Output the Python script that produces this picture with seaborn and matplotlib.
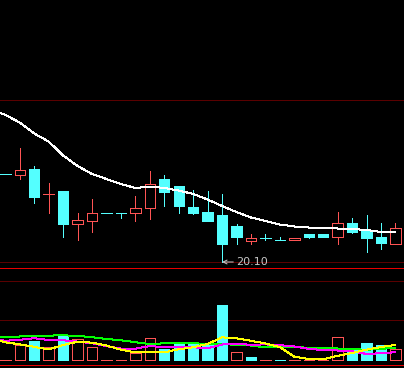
import matplotlib
matplotlib.use("Agg")
import matplotlib.pyplot as plt
import seaborn as sns
import pandas as pd

# ---------------- data ----------------
opens  = [21.86, 21.85, 21.96, 21.47, 21.53, 20.87, 20.93, 21.09, 21.09, 21.09,
          21.19, 21.76, 21.62, 21.20, 21.10, 21.04, 20.83, 20.53, 20.59, 20.55,
          20.55, 20.67, 20.67, 20.61, 20.88, 20.72, 20.60, 20.47]
closes = [21.86, 21.95, 21.41, 21.47, 20.87, 20.94, 21.09, 21.09, 21.09, 21.19,
          21.67, 21.51, 21.23, 21.09, 20.93, 20.47, 20.61, 20.59, 20.59, 20.55,
          20.59, 20.61, 20.61, 20.88, 20.71, 20.59, 20.49, 20.78]
highs  = [21.86, 22.38, 22.02, 21.68, 21.53, 21.08, 21.36, 21.09, 21.09, 21.42,
          21.92, 21.84, 21.62, 21.54, 21.52, 21.47, 20.86, 20.66, 20.66, 20.60,
          20.59, 20.67, 20.67, 21.10, 20.98, 21.04, 20.88, 20.88]
lows   = [21.86, 21.76, 21.29, 21.09, 20.61, 20.55, 20.71, 21.09, 20.99, 20.93,
          20.97, 21.23, 21.09, 21.06, 20.93, 20.10, 20.47, 20.46, 20.54, 20.55,
          20.55, 20.59, 20.61, 20.47, 20.69, 20.31, 20.37, 20.47]
candle_up = [False, True, False, True, False, True, True, False, False, True,
             True, False, False, False, False, False, False, True, False, False,
             True, False, False, True, False, False, False, True]

ma_x = list(range(-1, 28))
price_ma = [23.16, 23.04, 22.89, 22.67, 22.51, 22.23, 22.02, 21.86, 21.76, 21.66,
            21.58, 21.61, 21.58, 21.53, 21.46, 21.35, 21.22, 21.10, 20.99, 20.92,
            20.85, 20.81, 20.79, 20.78, 20.77, 20.76, 20.74, 20.70, 20.69]

volumes = [500, 14700, 19000, 12700, 24300, 20700, 12700, 500, 500, 6700,
           21700, 10700, 16000, 16000, 16000, 55000, 7700, 3000, 500, 500,
           500, 500, 500, 23000, 10000, 17000, 15000, 11000]
volume_up = [True, True, False, True, False, True, True, True, True, True,
             True, False, False, False, False, False, True, False, True, False,
             True, True, True, True, False, False, False, True]

vol_ma5 = [21500, 17700, 15700, 13200, 10500, 15000, 18300, 17300, 14500, 10300,
           7700, 8000, 7700, 10700, 12800, 16000, 22700, 21700, 19200, 16500,
           13000, 3300, 1000, 700, 4200, 7000, 10400, 13000, 15000]
vol_ma10 = [21500, 19200, 20200, 21800, 19900, 19700, 18400, 16800, 13800, 11400,
            11300, 14000, 12700, 12700, 12700, 11700, 15500, 16000, 15300, 15600,
            14800, 13500, 11200, 9800, 9500, 8800, 6000, 6800, 7800]
vol_ma20 = [22600, 22900, 23500, 23700, 24400, 24700, 24100, 22800, 21000, 19700,
            17800, 16000, 16700, 16700, 16700, 16200, 15800, 15300, 14500, 12700,
            12700, 12700, 12400, 11700, 11500, 10900, 10200, 11400, 11700]

low_label = "20.10"
low_index = 15

# ---------------- style ----------------
sns.set_theme(style="dark")
plt.rcParams["font.family"] = ["DejaVu Sans"]

RED = "#FF5454"
CYAN = "#54FFFF"
FRAME = "#E80000"
GRID = "#5A0000"
PX = 0.72  # one pixel in points at dpi 100

fig = plt.figure(figsize=(4.04, 3.68), dpi=100, facecolor="black")
ax = fig.add_axes([0, 100 / 368, 1, 268 / 368])
axv = fig.add_axes([0, 3 / 368, 1, 84 / 368])

for a in (ax, axv):
    a.set_facecolor("black")
    a.tick_params(left=False, bottom=False, labelleft=False, labelbottom=False)
    for s in a.spines.values():
        s.set_visible(False)
        s.set_linewidth(PX)
        s.set_antialiased(False)
    a.grid(False)

df = pd.DataFrame({"o": opens, "c": closes, "h": highs, "l": lows, "up": candle_up})
df["x"] = range(len(df))

# ---------------- candles ----------------
W = 0.72
for _, r in df.iterrows():
    col = RED if r.up else CYAN
    lo, hi = min(r.o, r.c), max(r.o, r.c)
    ax.bar(r.x, hi - lo, bottom=lo, width=W,
           facecolor="black" if r.up else CYAN, edgecolor=col,
           linewidth=PX, antialiased=False, zorder=3)
    if r.h > hi:
        ax.vlines(r.x, hi, r.h, color=col, lw=PX, antialiased=False, zorder=3)
    if r.l < lo:
        ax.vlines(r.x, r.l, lo, color=col, lw=PX, antialiased=False, zorder=3)

sns.lineplot(x=ma_x, y=price_ma, ax=ax, color="white", lw=PX, zorder=4,
             antialiased=False)

ax.set_xlim(-0.367, 27.59)
ax.set_ylim(19.98, 25.34)
ax.set_yticks([20.10, 23.34])
ax.yaxis.grid(True, color=GRID, lw=PX, zorder=0, antialiased=False)
ax.spines["bottom"].set_visible(True)
ax.spines["bottom"].set_color(FRAME)

ax.annotate(low_label, xy=(low_index, lows[low_index]),
            xytext=(14.5, 0), textcoords="offset pixels",
            ha="left", va="center", color="#C8C8C8", fontsize=8,
            arrowprops=dict(arrowstyle="->", color="#C8C8C8", lw=PX,
                            shrinkA=0, shrinkB=0, mutation_scale=7),
            zorder=5)

# ---------------- volume ----------------
for i, (v, up) in enumerate(zip(volumes, volume_up)):
    col = RED if up else CYAN
    axv.bar(i, v, bottom=0, width=W, facecolor="black" if up else CYAN,
            edgecolor=col, linewidth=PX, antialiased=False, zorder=3)

sns.lineplot(x=ma_x, y=vol_ma20, ax=axv, color="#00FF00", lw=PX, zorder=4, antialiased=False)
sns.lineplot(x=ma_x, y=vol_ma10, ax=axv, color="#FF00FF", lw=PX, zorder=5, antialiased=False)
sns.lineplot(x=ma_x, y=vol_ma5, ax=axv, color="#FFFF00", lw=PX, zorder=6, antialiased=False)

axv.set_xlim(-0.367, 27.59)
axv.set_ylim(-5000, 79000)
axv.set_yticks([40000])
axv.yaxis.grid(True, color=GRID, lw=PX, zorder=0, antialiased=False)
axv.spines["top"].set_visible(True)
axv.spines["top"].set_color(GRID)
axv.spines["bottom"].set_visible(True)
axv.spines["bottom"].set_color(FRAME)

fig.savefig("out.png", dpi=100, facecolor="black")
